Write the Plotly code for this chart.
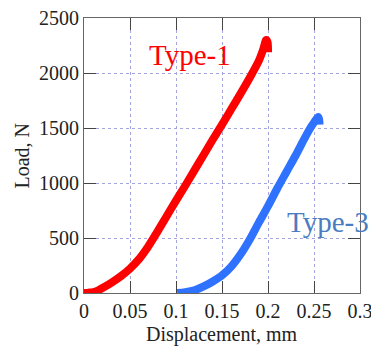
import plotly.graph_objects as go

# Type-1 load-displacement curve
type1_disp = [0.0, 0.005, 0.01, 0.015, 0.02, 0.03, 0.04, 0.05, 0.06, 0.07, 0.08, 0.09,
              0.10, 0.11, 0.12, 0.13, 0.14, 0.15, 0.16, 0.17, 0.18, 0.19, 0.195,
              0.198, 0.1995, 0.200]
type1_load = [0, 3, 8, 22, 45, 95, 152, 222, 310, 425, 560, 700,
              840, 975, 1115, 1255, 1395, 1530, 1670, 1810, 1955, 2110, 2220,
              2300, 2280, 2190]

# Type-3 load-displacement curve
type3_disp = [0.1013, 0.11, 0.12, 0.13, 0.14, 0.15, 0.16, 0.17, 0.18, 0.19, 0.20,
              0.21, 0.22, 0.23, 0.24, 0.246, 0.25, 0.2545, 0.2555, 0.256]
type3_load = [0, 8, 25, 60, 105, 160, 240, 350, 485, 640, 790,
              950, 1100, 1250, 1410, 1500, 1550, 1600, 1580, 1530]

x_ticks = [0, 0.05, 0.1, 0.15, 0.2, 0.25, 0.3]
x_tick_labels = ["0", "0.05", "0.1", "0.15", "0.2", "0.25", "0.3"]
y_ticks = [0, 500, 1000, 1500, 2000, 2500]
y_tick_labels = ["0", "500", "1000", "1500", "2000", "2500"]

RED = "#ff0000"
BLUE = "#2f72ff"
LABEL_BLUE = "#4a7cc0"
FONT = "Liberation Serif"
TEXT = "#222222"

fig = go.Figure()
fig.add_trace(go.Scatter(x=type1_disp, y=type1_load, mode="lines",
                         line=dict(color=RED, width=8, shape="spline", smoothing=0.8),
                         name="Type-1"))
fig.add_trace(go.Scatter(x=type3_disp, y=type3_load, mode="lines",
                         line=dict(color=BLUE, width=8, shape="spline", smoothing=0.8),
                         name="Type-3"))

fig.add_annotation(x=0.1152, y=2160, text="Type-1", showarrow=False,
                   font=dict(family=FONT, size=29, color=RED),
                   xanchor="center", yanchor="middle")
fig.add_annotation(x=0.2655, y=650, text="Type-3", showarrow=False,
                   font=dict(family=FONT, size=29, color=LABEL_BLUE),
                   xanchor="center", yanchor="middle")

# axis titles as paper annotations for precise placement
fig.add_annotation(xref="paper", yref="paper", x=0.5, y=-0.151, text="Displacement, mm",
                   showarrow=False, font=dict(family=FONT, size=20, color=TEXT),
                   xanchor="center", yanchor="middle")
fig.add_annotation(xref="paper", yref="paper", x=-0.228, y=0.5, text="Load, N",
                   showarrow=False, textangle=-90, font=dict(family=FONT, size=20, color=TEXT),
                   xanchor="center", yanchor="middle")

axis_common = dict(
    showline=True, linecolor="#666666", linewidth=1, mirror="ticks",
    ticks="inside", ticklen=12, tickcolor="#444444", tickwidth=1,
    showgrid=True, gridcolor="#a4a4e0", gridwidth=1, griddash="dot",
    zeroline=False, tickfont=dict(family=FONT, size=20, color=TEXT),
    automargin=False, ticklabeloverflow="allow",
)

fig.update_xaxes(range=[0, 0.3], tickvals=x_ticks, ticktext=x_tick_labels, **axis_common)
fig.update_yaxes(range=[0, 2500], tickvals=y_ticks, ticktext=y_tick_labels, **axis_common)

fig.update_layout(
    width=371, height=347,
    margin=dict(l=84, r=11, t=18, b=54),
    plot_bgcolor="white", paper_bgcolor="white",
    showlegend=False,
)

# remove the default page margin so the 371x347 figure fills the window exactly
fig.write_html("out.html",
               config={"displayModeBar": False},
               post_script="document.body.style.margin='0';document.body.style.overflow='hidden';")
